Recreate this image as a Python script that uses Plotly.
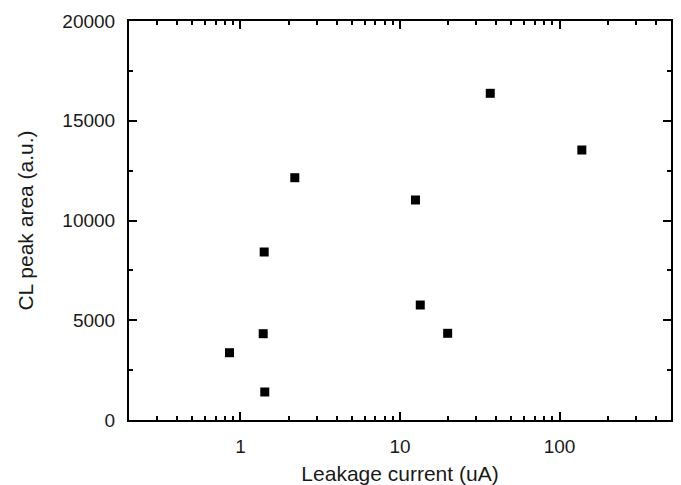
import plotly.graph_objects as go

leakage_current = [0.853, 1.388, 1.408, 1.42, 2.19, 12.5, 13.4, 19.9, 36.8, 138]
cl_peak_area = [3373, 4326, 8421, 1404, 12145, 11028, 5764, 4346, 16376, 13534]

x_major = [1, 10, 100]
x_major_text = ["1", "10", "100"]
x_minor = [0.3, 0.4, 0.5, 0.6, 0.7, 0.8, 0.9,
           2, 3, 4, 5, 6, 7, 8, 9,
           20, 30, 40, 50, 60, 70, 80, 90,
           200, 300, 400]
y_major = [0, 5000, 10000, 15000, 20000]
y_major_text = ["0", "5000", "10000", "15000", "20000"]

fig = go.Figure()
fig.add_trace(go.Scatter(
    x=leakage_current, y=cl_peak_area, mode="markers",
    marker=dict(symbol="square", size=9, color="black", line=dict(width=0)),
    showlegend=False,
))

font = dict(family="Liberation Sans, Arial, sans-serif", size=19, color="#1a1a1a")

fig.update_layout(
    width=681, height=485,
    margin=dict(l=129, r=10, t=21, b=65),
    paper_bgcolor="white", plot_bgcolor="white",
    font=font,
)
fig.update_xaxes(
    type="log", range=[-0.69897, 2.69897],
    tickvals=x_major, ticktext=x_major_text,
    ticks="inside", ticklen=8, tickwidth=2, tickcolor="black",
    minor=dict(tickvals=x_minor, ticks="inside", ticklen=4, tickwidth=2, tickcolor="black"),
    showline=True, linewidth=2, linecolor="black", mirror="ticks",
    showgrid=False, zeroline=False, automargin=False,
    ticklabelstandoff=8,
    title=dict(text="Leakage current (uA)", font=dict(size=21), standoff=11),
    tickfont=dict(size=19),
)
fig.update_yaxes(
    range=[0, 20000],
    tickvals=y_major, ticktext=y_major_text,
    ticks="inside", ticklen=8, tickwidth=2, tickcolor="black",
    minor=dict(dtick=2500, ticks="inside", ticklen=4, tickwidth=2, tickcolor="black"),
    showline=True, linewidth=2, linecolor="black", mirror="ticks",
    showgrid=False, zeroline=False, automargin=False,
    ticklabelstandoff=8,
    title=dict(text="CL peak area (a.u.)", font=dict(size=21), standoff=23),
    tickfont=dict(size=19),
)

fig.write_html(
    "out.html",
    config={"displayModeBar": False},
    post_script="document.body.style.margin='0';document.body.style.overflow='hidden';",
)
